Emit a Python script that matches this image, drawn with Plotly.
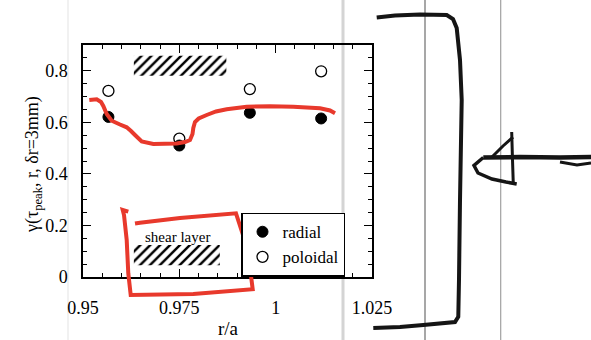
import plotly.graph_objects as go

# ---------------- data ----------------
r_over_a = [0.9566, 0.975, 0.9933, 1.0118]
gamma_radial = [0.621, 0.510, 0.637, 0.615]
gamma_poloidal = [0.722, 0.537, 0.729, 0.798]

x_ticks = [0.95, 0.975, 1.0, 1.025]
x_tick_text = ["0.95", "0.975", "1", "1.025"]
y_ticks = [0, 0.2, 0.4, 0.6, 0.8]
y_tick_text = ["0", "0.2", "0.4", "0.6", "0.8"]

shear_top_r = [0.9632, 0.9872]
shear_top_g = [0.7805, 0.8585]
shear_bot_r = [0.9632, 0.9855]
shear_bot_g = [0.0457, 0.1237]

# ---------------- geometry helpers (figure pixel -> paper) ----------------
W, H = 591, 340
ML, MR, MT, MB = 83, 219, 45, 63
PW, PH = W - ML - MR, H - MT - MB


def px(x):
    return (x - ML) / PW


def py(y):
    return (H - MB - y) / PH


def path(points):
    s = "M {:.4f} {:.4f}".format(px(points[0][0]), py(points[0][1]))
    for x, y in points[1:]:
        s += " L {:.4f} {:.4f}".format(px(x), py(y))
    return s


SERIF = "Liberation Serif, Times New Roman, serif"

fig = go.Figure()


def hatch(xr, yr):
    fig.add_trace(go.Scatter(
        x=[xr[0], xr[1], xr[1], xr[0], xr[0]],
        y=[yr[0], yr[0], yr[1], yr[1], yr[0]],
        mode="lines", fill="toself", line=dict(width=0, color="rgba(0,0,0,0)"),
        fillcolor="white",
        fillpattern=dict(shape="/", fgcolor="black", bgcolor="white",
                         fgopacity=1, size=7, solidity=0.35),
        showlegend=False, hoverinfo="skip"))


hatch(shear_top_r, shear_top_g)
hatch(shear_bot_r, shear_bot_g)

fig.add_trace(go.Scatter(
    x=r_over_a, y=gamma_radial, mode="markers", name="radial",
    marker=dict(symbol="circle", size=11, color="black",
                line=dict(color="black", width=1))))
fig.add_trace(go.Scatter(
    x=r_over_a, y=gamma_poloidal, mode="markers", name="poloidal",
    marker=dict(symbol="circle-open", size=11, color="black",
                line=dict(color="black", width=1.3))))

axis_common = dict(
    showgrid=False, zeroline=False, showline=True, linecolor="black",
    linewidth=1.5, mirror="ticks", ticks="inside", ticklen=8, tickwidth=1.3,
    tickcolor="black",
    tickfont=dict(family=SERIF, size=18, color="black"),
)

fig.update_xaxes(
    range=[0.95, 1.025], tickvals=x_ticks, ticktext=x_tick_text,
    minor=dict(dtick=0.005, ticks="inside", ticklen=4, tickwidth=1.2,
               tickcolor="black"),
    ticklabelstandoff=14, **axis_common)
fig.update_yaxes(
    range=[0, 0.9], tickvals=y_ticks, ticktext=y_tick_text,
    minor=dict(dtick=0.05, ticks="inside", ticklen=4, tickwidth=1.2,
               tickcolor="black"),
    ticklabelstandoff=10, **axis_common)

annotations = [
    dict(text="r/a", x=px(228), y=py(328), xref="paper", yref="paper",
         xanchor="center", yanchor="middle",
         showarrow=False, font=dict(family=SERIF, size=19, color="black")),
    dict(text="γ(τ<sub>peak</sub>, r, δr=3mm)", x=px(33), y=py(165),
         xref="paper", yref="paper", textangle=-90, showarrow=False,
         xanchor="center", yanchor="middle",
         font=dict(family=SERIF, size=18, color="black")),
    dict(text="shear layer", x=0.9744, y=0.155, xref="x", yref="y",
         xanchor="center", yanchor="middle",
         showarrow=False, font=dict(family=SERIF, size=15, color="black")),
]

shapes = []
# scan artefacts: vertical page lines
for xv, col, w in [(68, "#ececec", 1.5), (343, "#d4d4d4", 3),
                   (425, "#8a8a8a", 1.5), (500.7, "#a0a0a0", 1.2)]:
    shapes.append(dict(type="line", xref="paper", yref="paper",
                       x0=px(xv), x1=px(xv), y0=py(0), y1=py(H),
                       line=dict(color=col, width=w), layer="below"))

RED = "#e8392c"
red_curve = [(89.3, 100), (96.7, 99.3), (101, 102), (103.3, 106), (106.7, 114),
             (111.7, 120.7), (120, 124.5), (126.7, 127.3), (131, 131), (135, 135),
             (141.7, 141.5), (153.3, 144), (176.7, 143.5), (185, 142), (190, 140),
             (192.5, 134), (193.3, 128), (195, 122), (198.7, 118.5), (206.7, 115),
             (216, 111.5), (226.7, 109.3), (246.7, 106.7), (270, 106.3), (293.3, 106.7),
             (320, 108.3), (330, 110.5), (335, 113.3)]
shapes.append(dict(type="path", xref="paper", yref="paper", path=path(red_curve),
                   line=dict(color=RED, width=4)))
red_box = [(128.3, 211.7), (122.7, 210), (124, 215), (126.7, 240), (128.3, 273.3),
           (130.7, 295), (193.3, 294), (252.7, 289.3), (249, 260), (243, 235),
           (236, 213.3), (180, 218), (140, 222.7), (135, 223.5)]
shapes.append(dict(type="path", xref="paper", yref="paper", path=path(red_box),
                   line=dict(color=RED, width=4)))

BLK = "#151515"
bracket = [(376.7, 17.5), (395, 15.5), (420, 14.5), (446.7, 15), (453, 19),
           (456.7, 28), (460, 60), (461.7, 100), (460, 200), (459, 280),
           (458.3, 316.7), (455, 322), (423.3, 325), (400, 327), (373.3, 328)]
shapes.append(dict(type="path", xref="paper", yref="paper", path=path(bracket),
                   line=dict(color=BLK, width=4)))
arrow_line = [(591, 157), (560, 157.5), (520, 157), (483.3, 157.5)]
shapes.append(dict(type="path", xref="paper", yref="paper", path=path(arrow_line),
                   line=dict(color=BLK, width=4.5)))
arrow_head = [(483.3, 157.5), (474, 165.5), (478, 173), (492, 179), (506, 182),
              (516.7, 184)]
shapes.append(dict(type="path", xref="paper", yref="paper", path=path(arrow_head),
                   line=dict(color=BLK, width=3.5)))
arrow_stroke1 = [(492, 157), (503, 146), (513, 137)]
shapes.append(dict(type="path", xref="paper", yref="paper", path=path(arrow_stroke1),
                   line=dict(color=BLK, width=3)))
arrow_stroke2 = [(511.7, 132), (512.5, 160), (513.3, 184)]
shapes.append(dict(type="path", xref="paper", yref="paper", path=path(arrow_stroke2),
                   line=dict(color=BLK, width=3)))
arrow_tail = [(560, 162), (577, 165), (591, 163)]
shapes.append(dict(type="path", xref="paper", yref="paper", path=path(arrow_tail),
                   line=dict(color=BLK, width=3)))

fig.update_layout(
    width=W, height=H,
    margin=dict(l=ML, r=MR, t=MT, b=MB),
    paper_bgcolor="white", plot_bgcolor="white",
    font=dict(family=SERIF, color="black"),
    showlegend=True,
    legend=dict(x=px(241), y=py(212.7), xanchor="left", yanchor="top",
                bgcolor="white", bordercolor="black", borderwidth=1.5,
                font=dict(family=SERIF, size=17, color="black"),
                itemwidth=30, tracegroupgap=0),
    annotations=annotations,
    shapes=shapes,
)

fig.write_html("out.html")
